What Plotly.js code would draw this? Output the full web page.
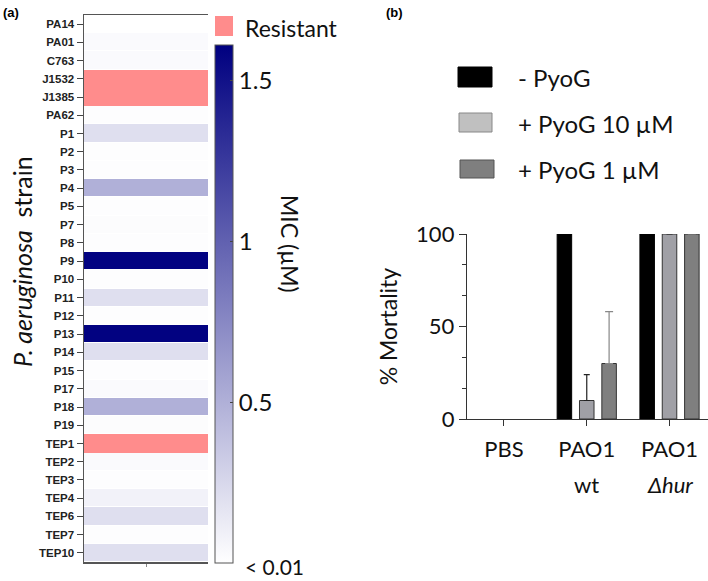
<!DOCTYPE html>
<html>
<head>
<meta charset="utf-8">
<script src="https://cdn.plot.ly/plotly-3.0.1.min.js"></script>
<style>html,body{margin:0;padding:0;background:#fff;}#chart{width:708px;height:581px;}</style>
</head>
<body>
<div id="chart"></div>
<script>
// ---- Panel (a) data ----
const strains = ['PA14','PA01','C763','J1532','J1385','PA62','P1','P2','P3','P4','P5','P7','P8','P9','P10',
                 'P11','P12','P13','P14','P15','P17','P18','P19','TEP1','TEP2','TEP3','TEP4','TEP6','TEP7','TEP10'];
// MIC in µM (null = resistant)
const mic = [0.0, 0.03, 0.03, null, null, 0.01, 0.2, 0.01, 0.01, 0.5, 0.01, 0.02, 0.01, 1.6, 0.01,
             0.2, 0.01, 1.6, 0.2, 0.01, 0.03, 0.5, 0.02, null, 0.03, 0.01, 0.08, 0.2, 0.01, 0.2];
const resistant = [0,0,0,1,1,0,0,0,0,0,0,0,0,0,0, 0,0,0,0,0,0,0,0,1,0,0,0,0,0,0];
const micTickVals = [0.5, 1, 1.5];
const micTickText = ['0.5', '1', '1.5'];
const micLowLabel = '< 0.01';

// ---- Panel (b) data ----
const groups = [0, 1, 2];
const groupLine1 = ['PBS', 'PAO1', 'PAO1'];
const groupLine2 = ['', 'wt', '<i>Δhur</i>'];
const seriesNames = ['- PyoG', '+ PyoG 10 µM', '+ PyoG 1 µM'];
const noPyoG = [0, 100, 100];
const pyoG10 = [0, 10, 100];
const pyoG10Err = [0, 14, 0];
const pyoG1 = [0, 30, 100];
const pyoG1Err = [0, 28, 0];

const W = 708, H = 581;
const px = v => v / W;
const py = v => 1 - v / H;
const LATO = 'Lato, "Open Sans", sans-serif';
// zero-mortality bars have no visible mark (no outline, no cap)
const drawn = arr => arr.map(v => v > 0 ? v : null);

const traces = [
  {
    type: 'heatmap', x: [0], y: strains,
    z: mic.map(v => [v]),
    zmin: 0, zmax: 1.61,
    colorscale: [[0, '#ffffff'], [1, '#000080']],
    ygap: 1,
    hoverongaps: false,
    xaxis: 'x', yaxis: 'y',
    colorbar: {
      x: px(215), xanchor: 'left', xpad: 0,
      y: py(563), yanchor: 'bottom', ypad: 0,
      len: 518, lenmode: 'pixels',
      thickness: 18, thicknessmode: 'pixels',
      outlinewidth: 1, outlinecolor: '#555',
      tickvals: micTickVals, ticktext: micTickText,
      ticks: 'inside', ticklen: 3, tickcolor: '#444',
      tickfont: {family: LATO, size: 24, color: '#111'}
    }
  },
  {
    type: 'heatmap', x: [0], y: strains,
    z: resistant.map(r => [r ? 1 : null]),
    zmin: 0, zmax: 1,
    colorscale: [[0, '#ff8c8c'], [1, '#ff8c8c']],
    showscale: false, ygap: 0, hoverongaps: false,
    xaxis: 'x', yaxis: 'y'
  },
  {
    type: 'bar', name: seriesNames[0], x: groups, y: drawn(noPyoG),
    marker: {color: '#000000', line: {color: '#000000', width: 1}},
    xaxis: 'x2', yaxis: 'y2', showlegend: false
  },
  {
    type: 'bar', name: seriesNames[1], x: groups, y: drawn(pyoG10),
    marker: {color: '#a0a0a6', line: {color: '#333', width: 1}},
    error_y: {type: 'data', array: pyoG10Err, arrayminus: [0, 0, 0], symmetric: false,
              color: '#222', thickness: 1.2, width: 3},
    xaxis: 'x2', yaxis: 'y2', showlegend: false
  },
  {
    type: 'bar', name: seriesNames[2], x: groups, y: drawn(pyoG1),
    marker: {color: '#7f7f7f', line: {color: '#333', width: 1}},
    error_y: {type: 'data', array: pyoG1Err, arrayminus: [0, 0, 0], symmetric: false,
              color: '#888', thickness: 1.2, width: 4},
    xaxis: 'x2', yaxis: 'y2', showlegend: false
  }
];

const legendColors = [
  {fill: '#000000', line: '#000000', x0: 458, x1: 492, y0: 67, y1: 87, ty: 78},
  {fill: '#c0c0c0', line: '#888888', x0: 459, x1: 492, y0: 113, y1: 132, ty: 123},
  {fill: '#7f7f7f', line: '#555555', x0: 460, x1: 494, y0: 160, y1: 178, ty: 169}
];

const shapes = [
  {type: 'rect', xref: 'paper', yref: 'paper', x0: px(215), x1: px(233), y0: py(36), y1: py(16),
   fillcolor: '#ff8c8c', line: {width: 0}}
];
const annotations = [
  {text: '<b>(a)</b>', xref: 'paper', yref: 'paper', x: px(1), y: py(12), xanchor: 'left', yanchor: 'middle',
   showarrow: false, font: {family: 'Liberation Sans, Arial', size: 13, color: '#000'}},
  {text: '<b>(b)</b>', xref: 'paper', yref: 'paper', x: px(384), y: py(12), xanchor: 'left', yanchor: 'middle',
   showarrow: false, font: {family: 'Liberation Sans, Arial', size: 13, color: '#000'}},
  {text: 'Resistant', xref: 'paper', yref: 'paper', x: px(243), y: py(28), xanchor: 'left', yanchor: 'middle',
   showarrow: false, font: {family: LATO, size: 23, color: '#111'}},
  {text: micLowLabel, xref: 'paper', yref: 'paper', x: px(243), y: py(566), xanchor: 'left', yanchor: 'middle',
   showarrow: false, font: {family: LATO, size: 21, color: '#111'}},
  {text: 'MIC (µM)', textangle: 90, xref: 'paper', yref: 'paper', x: px(290), y: py(244), xanchor: 'center', yanchor: 'middle',
   showarrow: false, font: {family: LATO, size: 23, color: '#111'}},
  {text: '<i>P. aeruginosa</i>\u00a0\u00a0strain', textangle: -90, xref: 'paper', yref: 'paper', x: px(22), y: py(262),
   xanchor: 'center', yanchor: 'middle', showarrow: false, font: {family: LATO, size: 25, color: '#111'}}
];
legendColors.forEach((l, i) => {
  shapes.push({type: 'rect', xref: 'paper', yref: 'paper', x0: px(l.x0), x1: px(l.x1), y0: py(l.y1), y1: py(l.y0),
               fillcolor: l.fill, line: {color: l.line, width: 1}});
  annotations.push({text: seriesNames[i], xref: 'paper', yref: 'paper', x: px(516), y: py(l.ty), xanchor: 'left', yanchor: 'middle',
                    showarrow: false, font: {family: LATO, size: 24, color: '#111'}});
});
groups.forEach((g, i) => {
  if (groupLine2[i]) {
    annotations.push({text: groupLine2[i], xref: 'x2', yref: 'paper', x: g, y: py(484), xanchor: 'center', yanchor: 'middle',
                      showarrow: false, font: {family: LATO, size: 22, color: '#111'}});
  }
});

const layout = {
  width: W, height: H,
  margin: {l: 0, r: 0, t: 0, b: 0},
  paper_bgcolor: '#fff', plot_bgcolor: '#fff',
  showlegend: false,
  xaxis: {
    domain: [px(84), px(208)], range: [-0.5, 0.5], anchor: 'y',
    showline: true, linecolor: '#555', linewidth: 1.5, mirror: true,
    showgrid: false, zeroline: false, showticklabels: false,
    tickvals: [0], ticks: 'outside', ticklen: 3, tickcolor: '#888'
  },
  yaxis: {
    domain: [py(562), py(15)], anchor: 'x',
    type: 'category', autorange: 'reversed',
    showline: true, linecolor: '#555', linewidth: 1.5,
    showgrid: false, zeroline: false,
    ticks: 'outside', ticklen: 6, tickcolor: '#444', tickwidth: 1,
    tickfont: {family: 'Liberation Sans, Arial', size: 11.5, color: '#222', weight: 'bold'}
  },
  xaxis2: {
    domain: [px(467), 1], range: [-0.447, 2.465], anchor: 'y2',
    showline: true, linecolor: '#333', linewidth: 1.2,
    showgrid: false, zeroline: false,
    tickvals: groups, ticktext: groupLine1,
    ticks: 'outside', ticklen: 6, tickcolor: '#333', ticklabelstandoff: 4,
    tickfont: {family: LATO, size: 22, color: '#111'}
  },
  yaxis2: {
    domain: [py(419), py(234)], range: [0, 100], anchor: 'x2',
    showline: true, linecolor: '#333', linewidth: 1.2,
    showgrid: false, zeroline: false,
    tickvals: [0, 50, 100], ticks: 'outside', ticklen: 7, tickcolor: '#333',
    minor: {dtick: 100/6, ticks: 'outside', ticklen: 4, tickcolor: '#333', showgrid: false},
    tickfont: {family: LATO, size: 22, color: '#111'},
    title: {text: '% Mortality', font: {family: LATO, size: 23, color: '#111'}, standoff: 12}
  },
  barmode: 'group', bargap: 0.19, bargroupgap: 0.35,
  shapes: shapes,
  annotations: annotations
};

Plotly.newPlot('chart', traces, layout, {displayModeBar: false, staticPlot: true});
</script>
</body>
</html>
